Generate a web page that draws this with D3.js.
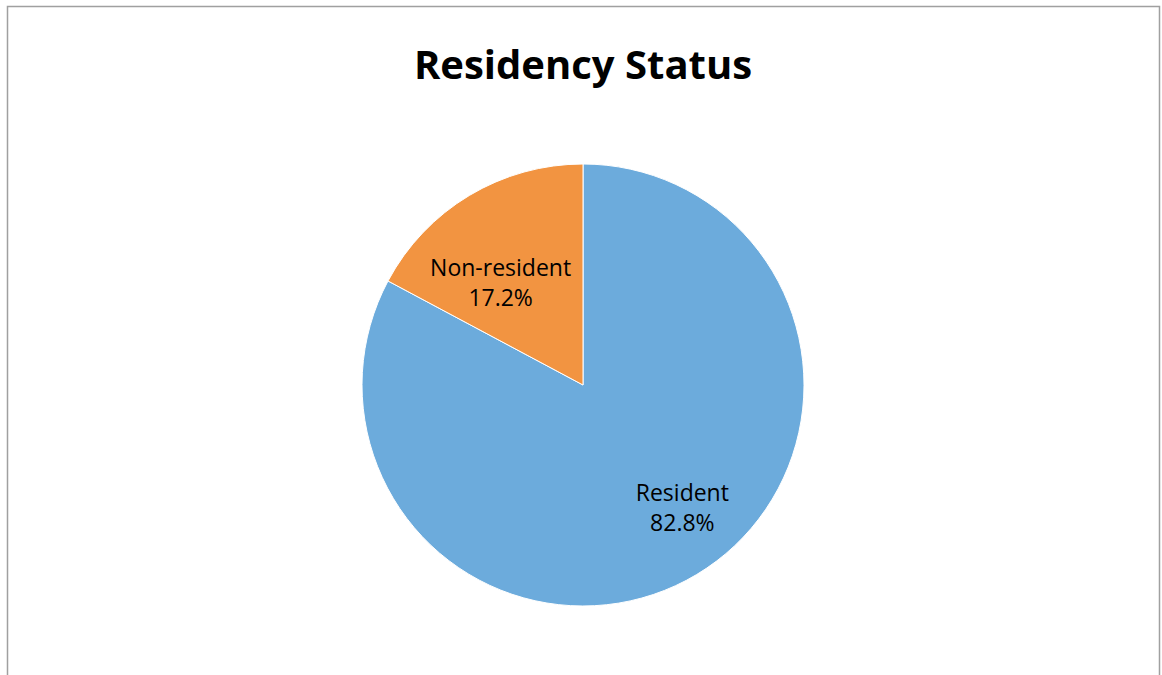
<!DOCTYPE html>
<html><head><meta charset="utf-8">
<script src="https://cdn.jsdelivr.net/npm/d3@7"></script>
<style>html,body{margin:0;padding:0;background:#fff;}svg{display:block;}</style>
</head><body>
<script>
const categories = ["Resident", "Non-resident"];
const values = [82.8, 17.2];
const colors = ["#6CABDC", "#F29441"];
const title = "Residency Status";

const W = 1162, H = 675;
const cx = 583, cy = 385, R = 221;
const labelRadius = [158, 131];
const labelRotate = -8 * Math.PI / 180;
const FONT = "'Open Sans', Lato, sans-serif";

const svg = d3.select("body").append("svg").attr("width", W).attr("height", H);
svg.append("rect").attr("width", W).attr("height", H).attr("fill", "#fff");
svg.append("path")
  .attr("d", `M7.5,${H} L7.5,6.5 L1159.5,6.5 L1159.5,${H}`)
  .attr("fill", "none").attr("stroke", "#A0A0A0").attr("stroke-width", 1.5);

svg.append("text").attr("x", cx).attr("y", 79).attr("text-anchor", "middle")
  .attr("font-family", FONT).attr("font-weight", "bold")
  .attr("font-size", 40).attr("fill", "#000").text(title);

const data = categories.map((c, i) => ({cat: c, value: values[i], color: colors[i]}));
const pie = d3.pie().sort(null).value(d => d.value);
const arcs = pie(data);
const arc = d3.arc().innerRadius(0).outerRadius(R);
const g = svg.append("g").attr("transform", `translate(${cx},${cy})`);
g.selectAll("path").data(arcs).join("path")
  .attr("d", arc).attr("fill", d => d.data.color)
  .attr("stroke", "#fff").attr("stroke-width", 1);

arcs.forEach((a, i) => {
  const mid = (a.startAngle + a.endAngle) / 2 + labelRotate;
  const x = Math.sin(mid) * labelRadius[i];
  const y = -Math.cos(mid) * labelRadius[i];
  const t = g.append("text").attr("text-anchor", "middle")
    .attr("font-family", FONT).attr("font-size", 23).attr("fill", "#000");
  t.append("tspan").attr("x", x).attr("y", y - 7).text(a.data.cat);
  t.append("tspan").attr("x", x).attr("y", y + 23).text(d3.format(".1f")(a.data.value) + "%");
});
</script>
</body></html>
